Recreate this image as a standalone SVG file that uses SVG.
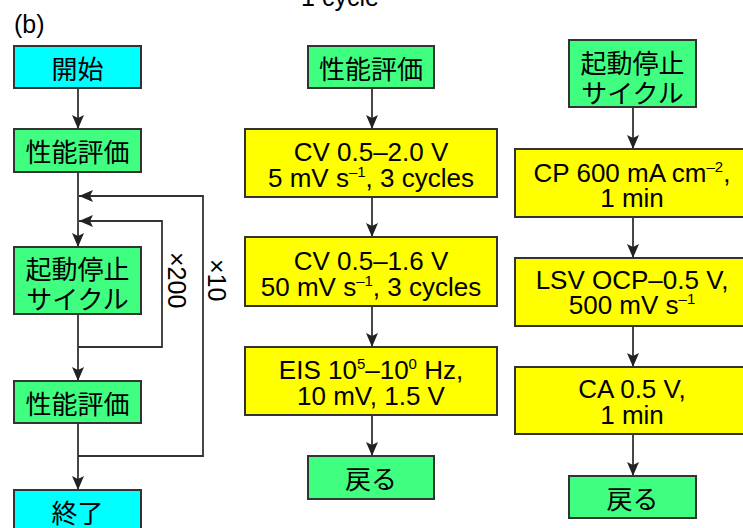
<svg xmlns="http://www.w3.org/2000/svg" width="743" height="528" viewBox="0 0 743 528">
<defs>
<style>
.box{stroke:#333;stroke-width:2}
.cy{fill:#00FFFF}
.gr{fill:#40FF80}
.ye{fill:#FFFF00}
text{font-family:"Liberation Sans",Arial,"Noto Sans CJK JP",sans-serif;fill:#000}
.lt{font-size:26px;text-anchor:middle}
.jp{font-size:26px;text-anchor:middle;dominant-baseline:central;font-family:"Noto Sans CJK JP",sans-serif}
.sup{font-size:15px}
.ln{fill:none;stroke:#333;stroke-width:1.8}
</style>
<marker id="ah" viewBox="0 0 14 12" refX="14" refY="6" markerWidth="14" markerHeight="12" markerUnits="userSpaceOnUse" orient="auto">
<path d="M0,0 L14,6 L0,12 L3,6 Z" fill="#222"/>
</marker>
</defs>
<rect width="743" height="528" fill="#fff"/>
<text x="14" y="33" style="font-size:25px">(b)</text>
<text x="340" y="6" class="lt" style="font-size:25px">1 cycle</text>

<g id="connectors">
<line class="ln" x1="78" y1="88" x2="78" y2="129" marker-end="url(#ah)"/>
<line class="ln" x1="78" y1="172" x2="78" y2="247" marker-end="url(#ah)"/>
<line class="ln" x1="78" y1="314" x2="78" y2="381" marker-end="url(#ah)"/>
<line class="ln" x1="78" y1="423" x2="78" y2="490" marker-end="url(#ah)"/>
<polyline class="ln" points="78,347 162,347 162,221 79,221" marker-end="url(#ah)"/>
<polyline class="ln" points="78,456 203,456 203,196 79,196" marker-end="url(#ah)"/>
<line class="ln" x1="372" y1="88" x2="372" y2="129" marker-end="url(#ah)"/>
<line class="ln" x1="372" y1="197" x2="372" y2="237" marker-end="url(#ah)"/>
<line class="ln" x1="372" y1="306" x2="372" y2="347" marker-end="url(#ah)"/>
<line class="ln" x1="372" y1="415" x2="372" y2="456" marker-end="url(#ah)"/>
<line class="ln" x1="633" y1="107" x2="633" y2="149" marker-end="url(#ah)"/>
<line class="ln" x1="633" y1="217" x2="633" y2="258" marker-end="url(#ah)"/>
<line class="ln" x1="633" y1="326" x2="633" y2="367" marker-end="url(#ah)"/>
<line class="ln" x1="633" y1="434" x2="633" y2="476" marker-end="url(#ah)"/>
<text transform="translate(168,252) rotate(90)" style="font-size:25px">×200</text>
<text transform="translate(208,259) rotate(90)" style="font-size:25px">×10</text>
</g>

<g id="start"><rect class="box cy" x="14" y="46" width="127" height="42"/><text class="jp" x="77.5" y="67">開始</text></g>
<g id="perf1"><rect class="box gr" x="14" y="129" width="127" height="43"/><text class="jp" x="77.5" y="150.5">性能評価</text></g>
<g id="cycle"><rect class="box gr" x="14" y="247" width="127" height="67"/><text class="jp" x="77.5" y="267">起動停止</text><text class="jp" x="77.5" y="297.5">サイクル</text></g>
<g id="perf2"><rect class="box gr" x="14" y="381" width="127" height="42"/><text class="jp" x="77.5" y="402">性能評価</text></g>
<g id="end"><rect class="box cy" x="14" y="490" width="127" height="42"/><text class="jp" x="77.5" y="511">終了</text></g>

<g id="m-perf"><rect class="box gr" x="308" y="46" width="126" height="42"/><text class="jp" x="371" y="67">性能評価</text></g>
<g id="cv1"><rect class="box ye" x="245" y="129" width="252" height="68"/><text class="lt" x="371" y="161">CV 0.5–2.0 V</text><text class="lt" x="371" y="187">5 mV s<tspan class="sup" dy="-10">–1</tspan><tspan dy="10">, 3 cycles</tspan></text></g>
<g id="cv2"><rect class="box ye" x="245" y="237" width="252" height="69"/><text class="lt" x="371" y="270">CV 0.5–1.6 V</text><text class="lt" x="371" y="296">50 mV s<tspan class="sup" dy="-10">–1</tspan><tspan dy="10">, 3 cycles</tspan></text></g>
<g id="eis"><rect class="box ye" x="245" y="347" width="252" height="68"/><text class="lt" x="371" y="379">EIS 10<tspan class="sup" dy="-10">5</tspan><tspan dy="10">–10</tspan><tspan class="sup" dy="-10">0</tspan><tspan dy="10"> Hz,</tspan></text><text class="lt" x="371" y="405">10 mV, 1.5 V</text></g>
<g id="m-back"><rect class="box gr" x="308" y="456" width="126" height="43"/><text class="jp" x="371" y="477.5">戻る</text></g>

<g id="r-cycle"><rect class="box gr" x="569" y="40" width="127" height="67"/><text class="jp" x="632.5" y="61">起動停止</text><text class="jp" x="632.5" y="91">サイクル</text></g>
<g id="cp"><rect class="box ye" x="515" y="149" width="236" height="68"/><text class="lt" x="632" y="182">CP 600 mA cm<tspan class="sup" dy="-10">–2</tspan><tspan dy="10">,</tspan></text><text class="lt" x="632" y="207">1 min</text></g>
<g id="lsv"><rect class="box ye" x="515" y="258" width="236" height="68"/><text class="lt" x="632" y="289">LSV OCP–0.5 V,</text><text class="lt" x="632" y="314">500 mV s<tspan class="sup" dy="-10">–1</tspan></text></g>
<g id="ca"><rect class="box ye" x="515" y="367" width="236" height="67"/><text class="lt" x="632" y="398">CA 0.5 V,</text><text class="lt" x="632" y="424">1 min</text></g>
<g id="r-back"><rect class="box gr" x="569" y="476" width="127" height="42"/><text class="jp" x="632.5" y="497">戻る</text></g>
</svg>
